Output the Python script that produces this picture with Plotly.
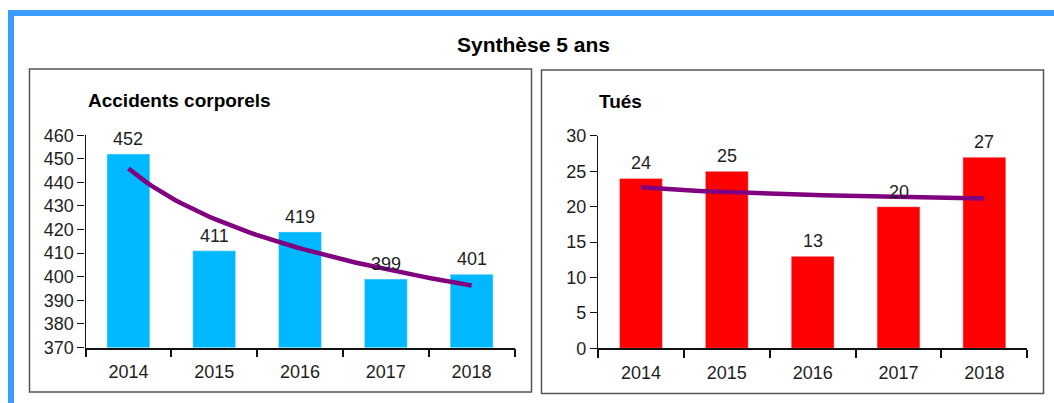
import numpy as np
import plotly.graph_objects as go

# Data
years = [2014, 2015, 2016, 2017, 2018]
accidents = [452, 411, 419, 399, 401]
tues = [24, 25, 13, 20, 27]

title_text = "Synthèse 5 ans"
accidents_title = "Accidents corporels"
tues_title = "Tués"

W, H = 1054, 403
FONT = "Liberation Sans, Arial, sans-serif"
TXT = "#1e1e1e"


def px_x(p):
    return p / W


def px_y(p):
    return 1 - p / H


def log_trend(values, n=60):
    """Logarithmic trendline y = a + b*ln(i), i = 1..N."""
    idx = np.arange(1, len(values) + 1)
    b, a = np.polyfit(np.log(idx), np.asarray(values, float), 1)
    t = np.linspace(1, len(values), n)
    return years[0] - 1 + t, a + b * np.log(t)


fig = go.Figure()

# Left panel: accidents
fig.add_trace(go.Bar(x=years, y=accidents, marker_color="#00B8FF", width=0.5,
                     xaxis="x", yaxis="y", showlegend=False, hoverinfo="x+y"))
tx, ty = log_trend(accidents)
fig.add_trace(go.Scatter(x=tx, y=ty, mode="lines", line=dict(color="#800080", width=4.5),
                         xaxis="x", yaxis="y", showlegend=False, hoverinfo="skip"))

# Right panel: killed
fig.add_trace(go.Bar(x=years, y=tues, marker_color="#FF0000", width=0.5,
                     xaxis="x2", yaxis="y2", showlegend=False, hoverinfo="x+y"))
tx2, ty2 = log_trend(tues)
fig.add_trace(go.Scatter(x=tx2, y=ty2, mode="lines", line=dict(color="#800080", width=4.5),
                         xaxis="x2", yaxis="y2", showlegend=False, hoverinfo="skip"))

annotations = []
for yr, v in zip(years, accidents):
    annotations.append(dict(x=yr, y=v, xref="x", yref="y", text=str(v), showarrow=False,
                            yanchor="bottom", yshift=3, font=dict(size=18, color=TXT, family=FONT)))
for yr, v in zip(years, tues):
    annotations.append(dict(x=yr, y=v, xref="x2", yref="y2", text=str(v), showarrow=False,
                            yanchor="bottom", yshift=3, font=dict(size=18, color=TXT, family=FONT)))

annotations += [
    dict(x=px_x(533.5), y=px_y(44), xref="paper", yref="paper", text=f"<b>{title_text}</b>",
         showarrow=False, xanchor="center", yanchor="middle",
         font=dict(size=21, color="#000", family=FONT)),
    dict(x=px_x(86), y=px_y(100), xref="paper", yref="paper", text=f"<b>{accidents_title}</b>",
         showarrow=False, xanchor="left", yanchor="middle",
         font=dict(size=19, color="#000", family=FONT)),
    dict(x=px_x(597), y=px_y(101), xref="paper", yref="paper", text=f"<b>{tues_title}</b>",
         showarrow=False, xanchor="left", yanchor="middle",
         font=dict(size=19, color="#000", family=FONT)),
]

boundaries = [y - 0.5 for y in years] + [years[-1] + 0.5]


def xaxis_cfg(domain, anchor):
    return dict(domain=domain, anchor=anchor, range=[years[0] - 0.5, years[-1] + 0.5],
                tickvals=years, ticktext=[str(y) for y in years], ticks="",
                ticklabelstandoff=7,
                showgrid=False, zeroline=False, automargin=False,
                showline=True, linecolor="#111", linewidth=1.5,
                tickfont=dict(size=18, color=TXT, family=FONT),
                minor=dict(tickvals=boundaries, ticks="outside", ticklen=8,
                           tickcolor="#111", tickwidth=1.5, showgrid=False),
                fixedrange=True)


def yaxis_cfg(domain, anchor, rng, dtick):
    return dict(domain=domain, anchor=anchor, range=rng, dtick=dtick, ticks="outside",
                ticklen=7, tickcolor="#111", tickwidth=1.2, showgrid=False,
                zeroline=False, automargin=False,
                showline=True, linecolor="#111", linewidth=1.2,
                tickfont=dict(size=18, color=TXT, family=FONT), fixedrange=True)


shapes = [
    # outer blue frame (top and left edges)
    dict(type="rect", xref="paper", yref="paper", x0=px_x(8), x1=1.0, y0=px_y(16), y1=px_y(10),
         fillcolor="#3C9BFF", line=dict(width=0), layer="above"),
    dict(type="rect", xref="paper", yref="paper", x0=px_x(8), x1=px_x(14), y0=0, y1=px_y(10),
         fillcolor="#3C9BFF", line=dict(width=0), layer="above"),
    # panel boxes
    dict(type="rect", xref="paper", yref="paper", x0=px_x(29.5), x1=px_x(531.5),
         y0=px_y(392), y1=px_y(69), line=dict(color="#555", width=1.5), layer="below"),
    dict(type="rect", xref="paper", yref="paper", x0=px_x(541.5), x1=px_x(1043.5),
         y0=px_y(393.5), y1=px_y(70), line=dict(color="#555", width=1.5), layer="below"),
]

fig.update_layout(
    width=W, height=H,
    margin=dict(l=0, r=0, t=0, b=0, pad=0),
    autosize=False,
    paper_bgcolor="white", plot_bgcolor="rgba(0,0,0,0)",
    font=dict(family=FONT, color=TXT),
    xaxis=xaxis_cfg([px_x(85.5), px_x(514.5)], "y"),
    yaxis=yaxis_cfg([px_y(347.5), px_y(135.2)], "x", [370, 460], 10),
    xaxis2=xaxis_cfg([px_x(598), px_x(1027.3)], "y2"),
    yaxis2=yaxis_cfg([px_y(348.3), px_y(135.9)], "x2", [0, 30], 5),
    annotations=annotations,
    shapes=shapes,
    bargap=0.5,
    showlegend=False,
)

fig.write_html("out.html", config=dict(displayModeBar=False))
